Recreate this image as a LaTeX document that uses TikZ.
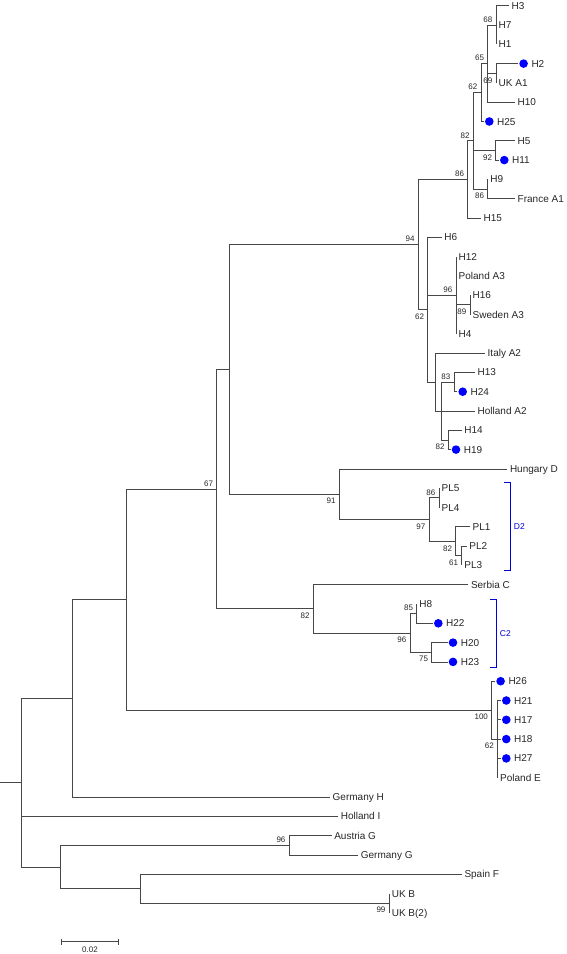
\documentclass[tikz,border=0pt]{standalone}
\usepackage{fontspec}
\setmainfont{Liberation Sans}
\usetikzlibrary{calc}

\tikzset{
  branch/.style={line width=0.8pt, draw=black!72},
  taxon/.style={anchor=west, inner sep=2.5pt, text height=7pt, text depth=0pt,
                font=\fontsize{10}{12}\selectfont, text=black!85},
  dottaxon/.style={taxon, xshift=10.5pt},
  hit/.style={fill=blue},
  boot/.style={inner sep=1pt, font=\fontsize{8}{9}\selectfont, text=black!85},
  bootup/.style={boot, anchor=south east, xshift=-2.5pt, yshift=1.5pt},
  bootdown/.style={boot, anchor=north east, xshift=-2.5pt, yshift=-3pt},
  bracket/.style={line width=0.9pt, draw=blue!85!black},
  cladename/.style={anchor=west, inner sep=1pt, text=blue!85!black,
                    font=\fontsize{8.5}{10}\selectfont},
}

\begin{document}
\begin{tikzpicture}[x=1pt, y=-1pt]
    \useasboundingbox (0,0) rectangle (567,954);

    % Internal nodes of the tree
    \coordinate (stub) at (0,782.65);
    \coordinate (root) at (21.8,782.65);
    \coordinate (nZ) at (72.7,698.3);
    \coordinate (nY) at (126.5,599.6);
    \coordinate (n67) at (216.7,489.1);
    \coordinate (nX) at (229.3,369.4);
    \coordinate (n94) at (418.3,244.5);
    \coordinate (n86a) at (467.7,179.4);
    \coordinate (n82a) at (473.3,140.8);
    \coordinate (n62a) at (481.0,92.55);
    \coordinate (n65) at (487.7,63.6);
    \coordinate (n68) at (496.0,25.0);
    \coordinate (n69) at (496.0,73.25);
    \coordinate (n92) at (495.7,150.45);
    \coordinate (n86b) at (487.7,189.05);
    \coordinate (n62b) at (427.7,309.7);
    \coordinate (n96a) at (456.0,295.2);
    \coordinate (n89) at (470.0,304.85);
    \coordinate (nA) at (435.0,382.05);
    \coordinate (nC) at (441.0,411.0);
    \coordinate (n83) at (454.0,382.05);
    \coordinate (n82b) at (448.3,439.95);
    \coordinate (n91) at (339.3,494.2);
    \coordinate (n97) at (429.0,519.55);
    \coordinate (n86c) at (439.0,497.85);
    \coordinate (n82c) at (455.7,541.3);
    \coordinate (n61) at (461.7,555.75);
    \coordinate (n82d) at (313.3,608.8);
    \coordinate (n96b) at (410.0,632.95);
    \coordinate (n85) at (416.7,613.65);
    \coordinate (n75) at (431.7,652.25);
    \coordinate (n100) at (491.6,710.15);
    \coordinate (n62c) at (497.5,739.1);
    \coordinate (nG) at (60.0,866.95);
    \coordinate (n96c) at (289.1,845.25);
    \coordinate (nF) at (140.7,888.7);
    \coordinate (n99) at (389.1,903.15);

    % Branch tips
    \coordinate (H3) at (509,5.7);
    \coordinate (H7) at (496,25.0);
    \coordinate (H1) at (496,44.3);
    \coordinate (H2) at (518.3,63.6);
    \coordinate (UKA1) at (496,82.9);
    \coordinate (H10) at (515,102.2);
    \coordinate (H25) at (484,121.5);
    \coordinate (H5) at (515,140.8);
    \coordinate (H11) at (499,160.1);
    \coordinate (H9) at (487.7,179.4);
    \coordinate (FranceA1) at (515,198.7);
    \coordinate (H15) at (481,218.0);
    \coordinate (H6) at (441.7,237.3);
    \coordinate (H12) at (456,256.6);
    \coordinate (PolandA3) at (456,275.9);
    \coordinate (H16) at (470,295.2);
    \coordinate (SwedenA3) at (470,314.5);
    \coordinate (H4) at (456,333.8);
    \coordinate (ItalyA2) at (485,353.1);
    \coordinate (H13) at (475,372.4);
    \coordinate (H24) at (457.4,391.7);
    \coordinate (HollandA2) at (475,411.0);
    \coordinate (H14) at (461.7,430.3);
    \coordinate (H19) at (450.7,449.6);
    \coordinate (HungaryD) at (507.3,468.9);
    \coordinate (PL5) at (439,488.2);
    \coordinate (PL4) at (439,507.5);
    \coordinate (PL1) at (470,526.8);
    \coordinate (PL2) at (466.7,546.1);
    \coordinate (PL3) at (461.7,565.4);
    \coordinate (SerbiaC) at (468.3,584.7);
    \coordinate (H8) at (416.7,604.0);
    \coordinate (H22) at (433,623.3);
    \coordinate (H20) at (447.7,642.6);
    \coordinate (H23) at (447.7,661.9);
    \coordinate (H26) at (495.3,681.2);
    \coordinate (H21) at (501,700.5);
    \coordinate (H17) at (501,719.8);
    \coordinate (H18) at (501,739.1);
    \coordinate (H27) at (501,758.4);
    \coordinate (PolandE) at (497.5,777.7);
    \coordinate (GermanyH) at (330,797.0);
    \coordinate (HollandI) at (338.2,816.3);
    \coordinate (AustriaG) at (331.6,835.6);
    \coordinate (GermanyG) at (358.2,854.9);
    \coordinate (SpainF) at (461.8,874.2);
    \coordinate (UKB) at (389.1,893.5);
    \coordinate (UKB2) at (389.1,912.8);

    % Backbone
    \draw[branch] (stub) -- (root);
    \draw[branch] (root) |- (nZ);
    \draw[branch] (root) |- (HollandI);
    \draw[branch] (root) |- (nG);
    \draw[branch] (nZ) |- (nY);
    \draw[branch] (nZ) |- (GermanyH);
    \draw[branch] (nY) |- (n67);
    \draw[branch] (nY) |- (n100);
    \draw[branch] (n67) |- (nX);
    \draw[branch] (n67) |- (n82d);
    \draw[branch] (nX) |- (n94);
    \draw[branch] (nX) |- (n91);

    % Clade A1
    \draw[branch] (n94) |- (n86a);
    \draw[branch] (n86a) |- (n82a);
    \draw[branch] (n86a) |- (H15);
    \draw[branch] (n82a) |- (n62a);
    \draw[branch] (n82a) |- (n92);
    \draw[branch] (n82a) |- (n86b);
    \draw[branch] (n62a) |- (n65);
    \draw[branch] (n62a) |- (H25);
    \draw[branch] (n65) |- (n68);
    \draw[branch] (n65) |- (n69);
    \draw[branch] (n65) |- (H10);
    \draw[branch] (n68) |- (H3);
    \draw[branch] (n68) |- (H7);
    \draw[branch] (n68) |- (H1);
    \draw[branch] (n69) |- (H2);
    \draw[branch] (n69) |- (UKA1);
    \draw[branch] (n92) |- (H5);
    \draw[branch] (n92) |- (H11);
    \draw[branch] (n86b) |- (H9);
    \draw[branch] (n86b) |- (FranceA1);

    % Clades A3 and A2
    \draw[branch] (n94) |- (n62b);
    \draw[branch] (n62b) |- (H6);
    \draw[branch] (n62b) |- (n96a);
    \draw[branch] (n62b) |- (nA);
    \draw[branch] (n96a) |- (H12);
    \draw[branch] (n96a) |- (PolandA3);
    \draw[branch] (n96a) |- (n89);
    \draw[branch] (n96a) |- (H4);
    \draw[branch] (n89) |- (H16);
    \draw[branch] (n89) |- (SwedenA3);
    \draw[branch] (nA) |- (ItalyA2);
    \draw[branch] (nA) |- (nC);
    \draw[branch] (nC) |- (n83);
    \draw[branch] (nC) |- (HollandA2);
    \draw[branch] (nC) |- (n82b);
    \draw[branch] (n83) |- (H13);
    \draw[branch] (n83) |- (H24);
    \draw[branch] (n82b) |- (H14);
    \draw[branch] (n82b) |- (H19);

    % Clade D
    \draw[branch] (n91) |- (HungaryD);
    \draw[branch] (n91) |- (n97);
    \draw[branch] (n97) |- (n86c);
    \draw[branch] (n97) |- (n82c);
    \draw[branch] (n86c) |- (PL5);
    \draw[branch] (n86c) |- (PL4);
    \draw[branch] (n82c) |- (PL1);
    \draw[branch] (n82c) |- (n61);
    \draw[branch] (n61) |- (PL2);
    \draw[branch] (n61) |- (PL3);

    % Clade C
    \draw[branch] (n82d) |- (SerbiaC);
    \draw[branch] (n82d) |- (n96b);
    \draw[branch] (n96b) |- (n85);
    \draw[branch] (n96b) |- (n75);
    \draw[branch] (n85) |- (H8);
    \draw[branch] (n85) |- (H22);
    \draw[branch] (n75) |- (H20);
    \draw[branch] (n75) |- (H23);

    % Clade E
    \draw[branch] (n100) |- (H26);
    \draw[branch] (n100) |- (n62c);
    \draw[branch] (n62c) |- (H21);
    \draw[branch] (n62c) |- (H17);
    \draw[branch] (n62c) |- (H18);
    \draw[branch] (n62c) |- (H27);
    \draw[branch] (n62c) |- (PolandE);

    % Clades G, F and B
    \draw[branch] (nG) |- (n96c);
    \draw[branch] (nG) |- (nF);
    \draw[branch] (n96c) |- (AustriaG);
    \draw[branch] (n96c) |- (GermanyG);
    \draw[branch] (nF) |- (SpainF);
    \draw[branch] (nF) |- (n99);
    \draw[branch] (n99) |- (UKB);
    \draw[branch] (n99) |- (UKB2);

    % Marked haplotypes
    \foreach \h in {H2,H25,H11,H24,H19,H22,H20,H23,H26,H21,H17,H18,H27}
        \fill[hit] ([xshift=5.3pt]\h) circle (4.3pt);

    % Taxon labels
    \node[taxon] (tH3) at (H3) {H3};
    \node[taxon] (tH7) at (H7) {H7};
    \node[taxon] (tH1) at (H1) {H1};
    \node[dottaxon] (tH2) at (H2) {H2};
    \node[taxon] (tUKA1) at (UKA1) {UK A1};
    \node[taxon] (tH10) at (H10) {H10};
    \node[dottaxon] (tH25) at (H25) {H25};
    \node[taxon] (tH5) at (H5) {H5};
    \node[dottaxon] (tH11) at (H11) {H11};
    \node[taxon] (tH9) at (H9) {H9};
    \node[taxon] (tFranceA1) at (FranceA1) {France A1};
    \node[taxon] (tH15) at (H15) {H15};
    \node[taxon] (tH6) at (H6) {H6};
    \node[taxon] (tH12) at (H12) {H12};
    \node[taxon] (tPolandA3) at (PolandA3) {Poland A3};
    \node[taxon] (tH16) at (H16) {H16};
    \node[taxon] (tSwedenA3) at (SwedenA3) {Sweden A3};
    \node[taxon] (tH4) at (H4) {H4};
    \node[taxon] (tItalyA2) at (ItalyA2) {Italy A2};
    \node[taxon] (tH13) at (H13) {H13};
    \node[dottaxon] (tH24) at (H24) {H24};
    \node[taxon] (tHollandA2) at (HollandA2) {Holland A2};
    \node[taxon] (tH14) at (H14) {H14};
    \node[dottaxon] (tH19) at (H19) {H19};
    \node[taxon] (tHungaryD) at (HungaryD) {Hungary D};
    \node[taxon] (tPL5) at (PL5) {PL5};
    \node[taxon] (tPL4) at (PL4) {PL4};
    \node[taxon] (tPL1) at (PL1) {PL1};
    \node[taxon] (tPL2) at (PL2) {PL2};
    \node[taxon] (tPL3) at (PL3) {PL3};
    \node[taxon] (tSerbiaC) at (SerbiaC) {Serbia C};
    \node[taxon] (tH8) at (H8) {H8};
    \node[dottaxon] (tH22) at (H22) {H22};
    \node[dottaxon] (tH20) at (H20) {H20};
    \node[dottaxon] (tH23) at (H23) {H23};
    \node[dottaxon] (tH26) at (H26) {H26};
    \node[dottaxon] (tH21) at (H21) {H21};
    \node[dottaxon] (tH17) at (H17) {H17};
    \node[dottaxon] (tH18) at (H18) {H18};
    \node[dottaxon] (tH27) at (H27) {H27};
    \node[taxon] (tPolandE) at (PolandE) {Poland E};
    \node[taxon] (tGermanyH) at (GermanyH) {Germany H};
    \node[taxon] (tHollandI) at (HollandI) {Holland I};
    \node[taxon] (tAustriaG) at (AustriaG) {Austria G};
    \node[taxon] (tGermanyG) at (GermanyG) {Germany G};
    \node[taxon] (tSpainF) at (SpainF) {Spain F};
    \node[taxon] (tUKB) at (UKB) {UK B};
    \node[taxon] (tUKB2) at (UKB2) {UK B(2)};

    % Bootstrap values above the branch
    \node[bootup] (b68) at (n68) {68};
    \node[bootup] (b65) at (n65) {65};
    \node[bootup] (b62a) at (n62a) {62};
    \node[bootup] (b82a) at (n82a) {82};
    \node[bootup] (b86a) at (n86a) {86};
    \node[bootup] (b94) at (n94) {94};
    \node[bootup] (b96a) at (n96a) {96};
    \node[bootup] (b83) at (n83) {83};
    \node[bootup] (b67) at (n67) {67};
    \node[bootup] (b86c) at (n86c) {86};
    \node[bootup] (b85) at (n85) {85};
    \node[bootup] (b96c) at (n96c) {96};

    % Bootstrap values below the branch
    \node[bootdown] (b69) at (n69) {69};
    \node[bootdown] (b92) at (n92) {92};
    \node[bootdown] (b86b) at (n86b) {86};
    \node[bootdown] (b89) at (n89) {89};
    \node[bootdown] (b62b) at (n62b) {62};
    \node[bootdown] (b82b) at (n82b) {82};
    \node[bootdown] (b91) at (n91) {91};
    \node[bootdown] (b97) at (n97) {97};
    \node[bootdown] (b82c) at (n82c) {82};
    \node[bootdown] (b61) at (n61) {61};
    \node[bootdown] (b82d) at (n82d) {82};
    \node[bootdown] (b96b) at (n96b) {96};
    \node[bootdown] (b75) at (n75) {75};
    \node[bootdown] (b100) at (n100) {100};
    \node[bootdown] (b62c) at (n62c) {62};
    \node[bootdown] (b99) at (n99) {99};

    % Bracket D2
    \coordinate (D2top) at (510.7,482.7);
    \coordinate (D2bot) at (510.7,570.0);
    \draw[bracket] ([xshift=-6.5pt]D2top) -- (D2top) -- (D2bot) -- ([xshift=-6.5pt]D2bot);
    \node[cladename] (lD2) at ($(D2top)!0.5!(D2bot)$) {\hspace{2pt}D2};

    % Bracket C2
    \coordinate (C2top) at (496.7,599.3);
    \coordinate (C2bot) at (496.7,667.3);
    \draw[bracket] ([xshift=-6.5pt]C2top) -- (C2top) -- (C2bot) -- ([xshift=-6.5pt]C2bot);
    \node[cladename] (lC2) at ($(C2top)!0.5!(C2bot)$) {\hspace{2pt}C2};

    % Scale bar
    \coordinate (sbL) at (61.8,941.7);
    \coordinate (sbR) at (118.2,941.7);
    \draw[branch] (sbL) -- (sbR);
    \draw[branch] ([yshift=3pt]sbL) -- ([yshift=-3pt]sbL);
    \draw[branch] ([yshift=3pt]sbR) -- ([yshift=-3pt]sbR);
    \node[boot, anchor=north] (sbtext) at ([yshift=-4pt]$(sbL)!0.5!(sbR)$) {0.02};
\end{tikzpicture}
\end{document}
